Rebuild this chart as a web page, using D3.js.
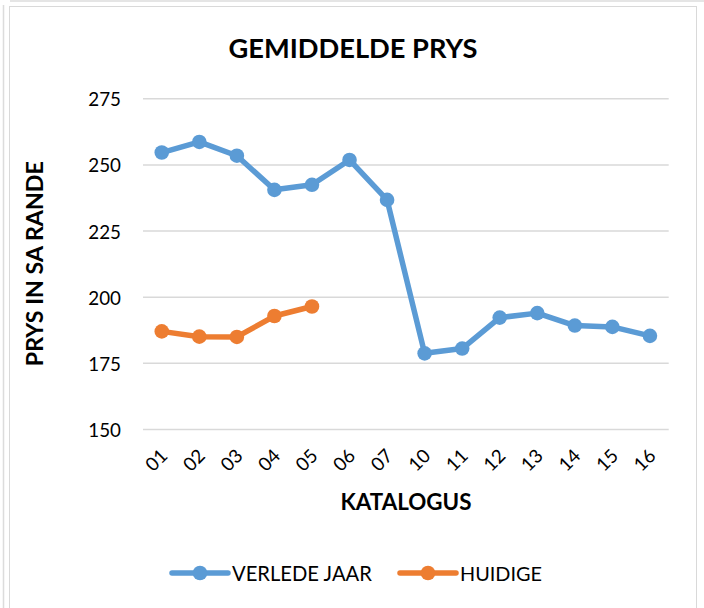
<!DOCTYPE html>
<html>
<head>
<meta charset="utf-8">
<script src="https://cdn.jsdelivr.net/npm/d3@7"></script>
<style>
  html, body { margin: 0; padding: 0; background: #fff; }
  svg { display: block; font-family: Lato, "Open Sans", sans-serif; }
</style>
</head>
<body>
<svg id="chart" width="704" height="608"></svg>
<script>
// ---- data ----
const categories = ["01","02","03","04","05","06","07","10","11","12","13","14","15","16"];
const verledeJaar = [254.5, 258.5, 253.3, 240.4, 242.3, 251.7, 236.6, 178.6, 180.4, 192.1, 193.8, 189.1, 188.6, 185.2];
const huidige = [186.9, 184.9, 184.8, 192.7, 196.3];
const yTicks = [150, 175, 200, 225, 250, 275];
const seriesNames = ["VERLEDE JAAR", "HUIDIGE"];
const titleText = "GEMIDDELDE PRYS";
const xTitle = "KATALOGUS";
const yTitle = "PRYS IN SA RANDE";

// ---- layout ----
const W = 704, H = 608;
const plot = { left: 143, right: 668.7, top: 98.3, bottom: 429 };
const colors = ["#5B9BD5", "#ED7D31"];
const gridColor = "#d9d9d9";

const svg = d3.select("#chart");

function fitText(sel, target) {
  const node = sel.node();
  const len = node.getComputedTextLength();
  const fs = parseFloat(sel.attr("font-size"));
  sel.attr("font-size", (fs * target / len).toFixed(2));
}

// frame decorations
svg.append("line").attr("x1", 3.5).attr("x2", 3.5).attr("y1", 5).attr("y2", H)
  .attr("stroke", "#dcdcdc").attr("stroke-width", 1.5);
svg.append("line").attr("x1", 10).attr("x2", W).attr("y1", 1).attr("y2", 1)
  .attr("stroke", "#dcdcdc").attr("stroke-width", 1.5);
svg.append("rect").attr("x", 9.5).attr("y", 6.5).attr("width", 687).attr("height", H + 10)
  .attr("fill", "#fff").attr("stroke", "#d9d9d9").attr("stroke-width", 1);

const x = d3.scaleBand().domain(categories).range([plot.left, plot.right]);
const y = d3.scaleLinear().domain([150, 275]).range([plot.bottom, plot.top]);
const cx = d => x(d) + x.bandwidth() / 2;

// y axis + grid
const yAxis = svg.append("g")
  .attr("transform", `translate(${plot.left},0)`)
  .call(d3.axisLeft(y).tickValues(yTicks).tickSize(-(plot.right - plot.left)).tickPadding(22));
yAxis.select(".domain").remove();
yAxis.selectAll(".tick line").attr("stroke", gridColor).attr("stroke-width", 1.5);
yAxis.selectAll(".tick text")
  .attr("font-family", "Lato").attr("font-size", 18.8).attr("fill", "#000")
  .attr("dy", "0.4em");

// x axis
const xAxis = svg.append("g")
  .attr("transform", `translate(0,${plot.bottom})`)
  .call(d3.axisBottom(x).tickSize(0).tickPadding(0));
xAxis.select(".domain").remove();
xAxis.selectAll(".tick text")
  .attr("font-family", "Lato").attr("font-size", 18.8).attr("fill", "#000")
  .attr("text-anchor", "end")
  .attr("y", 0).attr("dy", 0)
  .attr("transform", "translate(7,28) rotate(-45)");

// lines
const line = d3.line().x((d, i) => cx(categories[i])).y(d => y(d));
[verledeJaar, huidige].forEach((s, k) => {
  svg.append("path").datum(s)
    .attr("fill", "none").attr("stroke", colors[k]).attr("stroke-width", 5.5)
    .attr("stroke-linejoin", "round").attr("d", line);
  svg.append("g").selectAll("circle").data(s).join("circle")
    .attr("cx", (d, i) => cx(categories[i])).attr("cy", d => y(d))
    .attr("r", 7.3).attr("fill", colors[k]);
});

// title
const t = svg.append("text").attr("x", 353).attr("y", 58)
  .attr("text-anchor", "middle").attr("font-weight", "bold").attr("font-size", 28)
  .attr("fill", "#000").text(titleText);
fitText(t, 249);

// x title
const xt = svg.append("text").attr("x", 406).attr("y", 510)
  .attr("text-anchor", "middle").attr("font-weight", "bold").attr("font-size", 22)
  .attr("fill", "#000").text(xTitle);
fitText(xt, 131);

// y title
const yt = svg.append("text")
  .attr("transform", `translate(43,${(plot.top + plot.bottom) / 2}) rotate(-90)`)
  .attr("text-anchor", "middle").attr("font-weight", "bold").attr("font-size", 22)
  .attr("fill", "#000").text(yTitle);
fitText(yt, 205);

// legend
const legendItems = [
  { name: seriesNames[0], color: colors[0], x0: 172 },
  { name: seriesNames[1], color: colors[1], x0: 400 }
];
const legY = 573;
legendItems.forEach((it, k) => {
  const g = svg.append("g");
  g.append("line").attr("x1", it.x0).attr("x2", it.x0 + 56).attr("y1", legY).attr("y2", legY)
    .attr("stroke", it.color).attr("stroke-width", 5.5).attr("stroke-linecap", "round");
  g.append("circle").attr("cx", it.x0 + 28).attr("cy", legY).attr("r", 7.3).attr("fill", it.color);
  const tx = g.append("text").attr("x", it.x0 + 60).attr("y", legY + 8)
    .attr("font-size", 20).attr("fill", "#000").text(it.name);
  fitText(tx, k === 0 ? 140 : 82);
});
</script>
</body>
</html>
